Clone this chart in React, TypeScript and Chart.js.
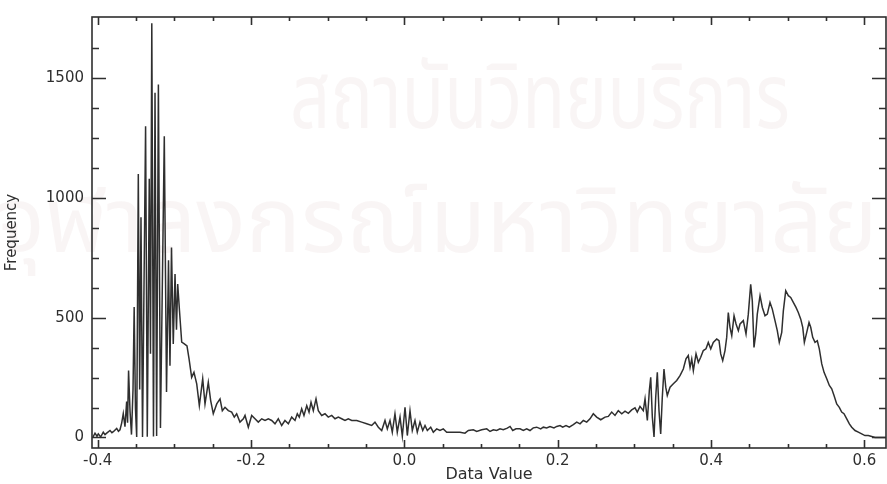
import React, { useEffect, useRef } from "react";
import { Chart, registerables } from "chart.js";

Chart.register(...registerables);

// Histogram: bin position (Data Value) and count (Frequency)
const dataValue = [
  -0.4062, -0.4036, -0.4010, -0.3993, -0.3962, -0.3928, -0.3905, -0.3883, -0.3840, -0.3815,
  -0.3797, -0.3753, -0.3730, -0.3710, -0.3688, -0.3667, -0.3645, -0.3623, -0.3611, -0.3598,
  -0.3579, -0.3560, -0.3540, -0.3525, -0.3508, -0.3492, -0.3471, -0.3453, -0.3436, -0.3416,
  -0.3376, -0.3354, -0.3328, -0.3312, -0.3295, -0.3273, -0.3253, -0.3232, -0.3209, -0.3182,
  -0.3132, -0.3103, -0.3077, -0.3058, -0.3038, -0.3015, -0.2992, -0.2973, -0.2957, -0.2934,
  -0.2905, -0.2875, -0.2836, -0.2810, -0.2775, -0.2745, -0.2709, -0.2675, -0.2631, -0.2601,
  -0.2558, -0.2527, -0.2493, -0.2448, -0.2405, -0.2375, -0.2340, -0.2297, -0.2253, -0.2219,
  -0.2188, -0.2145, -0.2101, -0.2079, -0.2036, -0.1992, -0.1949, -0.1906, -0.1861, -0.1818,
  -0.1775, -0.1731, -0.1688, -0.1645, -0.1601, -0.1558, -0.1514, -0.1470, -0.1427, -0.1397,
  -0.1371, -0.1340, -0.1310, -0.1274, -0.1244, -0.1218, -0.1188, -0.1153, -0.1123, -0.1079,
  -0.1036, -0.0993, -0.0948, -0.0905, -0.0862, -0.0818, -0.0775, -0.0732, -0.0687, -0.0622,
  -0.0557, -0.0492, -0.0427, -0.0384, -0.0340, -0.0296, -0.0253, -0.0223, -0.0188, -0.0158,
  -0.0123, -0.0093, -0.0057, -0.0027, 0.0008, 0.0038, 0.0073, 0.0103, 0.0138, 0.0168,
  0.0203, 0.0239, 0.0269, 0.0299, 0.0343, 0.0377, 0.0421, 0.0464, 0.0507, 0.0552,
  0.0638, 0.0725, 0.0790, 0.0834, 0.0899, 0.0943, 0.1008, 0.1074, 0.1117, 0.1160,
  0.1204, 0.1247, 0.1290, 0.1342, 0.1378, 0.1413, 0.1456, 0.1508, 0.1551, 0.1595,
  0.1638, 0.1681, 0.1726, 0.1778, 0.1812, 0.1856, 0.1899, 0.1951, 0.1987, 0.2030,
  0.2065, 0.2108, 0.2151, 0.2203, 0.2248, 0.2291, 0.2334, 0.2378, 0.2421, 0.2464,
  0.2508, 0.2561, 0.2617, 0.2660, 0.2704, 0.2747, 0.2790, 0.2835, 0.2878, 0.2921,
  0.2965, 0.3008, 0.3038, 0.3073, 0.3116, 0.3139, 0.3169, 0.3195, 0.3213, 0.3234,
  0.3256, 0.3278, 0.3299, 0.3321, 0.3343, 0.3364, 0.3386, 0.3409, 0.3429, 0.3465,
  0.3508, 0.3552, 0.3595, 0.3638, 0.3673, 0.3703, 0.3726, 0.3748, 0.3769, 0.3804,
  0.3834, 0.3865, 0.3899, 0.3934, 0.3964, 0.3996, 0.4029, 0.4074, 0.4104, 0.4126,
  0.4152, 0.4182, 0.4204, 0.4225, 0.4247, 0.4270, 0.4300, 0.4326, 0.4356, 0.4378,
  0.4421, 0.4456, 0.4486, 0.4517, 0.4538, 0.4560, 0.4583, 0.4603, 0.4639, 0.4669,
  0.4704, 0.4734, 0.4769, 0.4799, 0.4834, 0.4864, 0.4890, 0.4922, 0.4943, 0.4974,
  0.5008, 0.5039, 0.5073, 0.5108, 0.5138, 0.5170, 0.5196, 0.5217, 0.5248, 0.5278,
  0.5300, 0.5326, 0.5356, 0.5386, 0.5412, 0.5444, 0.5474, 0.5509, 0.5543, 0.5574,
  0.5604, 0.5639, 0.5673, 0.5704, 0.5734, 0.5770, 0.5804, 0.5835, 0.5878, 0.5921,
  0.5965, 0.6008, 0.6051, 0.6096, 0.6139, 0.6204, 0.6282,
];

const frequency = [
  2, 18, 5, 15, 2, 22, 12, 18, 29, 20,
  24, 38, 26, 32, 60, 100, 45, 150, 62, 280,
  110, 12, 200, 545, 120, 2, 1100, 200, 920, 2,
  1300, 3, 1080, 350, 1730, 4, 1440, 6, 1474, 40,
  1258, 190, 740, 300, 793, 390, 683, 450, 641, 530,
  398, 392, 382, 330, 251, 272, 224, 133, 245, 140,
  230, 154, 99, 140, 161, 112, 126, 112, 106, 85,
  99, 64, 78, 92, 43, 92, 78, 64, 78, 71,
  78, 71, 57, 78, 50, 71, 57, 85, 71, 99,
  85, 120, 92, 133, 106, 147, 112, 161, 112, 92,
  99, 85, 92, 78, 85, 78, 71, 78, 71, 71,
  64, 57, 50, 64, 43, 29, 71, 36, 71, 22,
  99, 22, 85, 5, 126, 8, 112, 29, 71, 22,
  64, 29, 50, 29, 43, 22, 36, 29, 36, 22,
  22, 22, 18, 29, 32, 25, 32, 36, 25, 32,
  29, 36, 32, 39, 46, 29, 36, 36, 29, 36,
  29, 40, 43, 36, 43, 40, 46, 40, 46, 50,
  43, 50, 43, 54, 64, 57, 71, 64, 78, 99,
  85, 74, 85, 88, 106, 92, 112, 99, 110, 101,
  115, 124, 106, 130, 112, 161, 71, 196, 251, 85,
  2, 168, 272, 112, 15, 168, 286, 210, 175, 210,
  224, 238, 258, 286, 328, 342, 293, 328, 279, 349,
  314, 335, 363, 370, 397, 370, 397, 411, 404, 349,
  321, 363, 418, 522, 460, 425, 508, 474, 446, 474,
  488, 432, 515, 640, 571, 376, 432, 515, 592, 543,
  508, 515, 564, 536, 488, 446, 397, 439, 529, 613,
  592, 585, 564, 543, 522, 494, 460, 397, 439, 480,
  460, 418, 397, 404, 370, 307, 272, 245, 217, 203,
  175, 140, 126, 106, 99, 78, 57, 43, 29, 22,
  15, 8, 8, 4, 0, 0, 0,
];

const xMajorTicks = [-0.4, -0.2, 0.0, 0.2, 0.4, 0.6];
const xMinorTicks = [-0.35, -0.3, -0.25, -0.15, -0.1, -0.05, 0.05, 0.1, 0.15, 0.25, 0.3, 0.35, 0.45, 0.5, 0.55];
const yMajorTicks = [0, 500, 1000, 1500];
const yMinorTicks = [125, 250, 375, 625, 750, 875, 1125, 1250, 1375, 1625];
const xTitle = "Data Value";
const yTitle = "Frequency";
const watermarkLines = ["สถาบันวิทยบริการ", "จุฬาลงกรณ์มหาวิทยาลัย"];

export default function App() {
  const canvasRef = useRef<HTMLCanvasElement>(null);

  useEffect(() => {
    document.body.style.margin = "0";
    const canvas = canvasRef.current;
    if (!canvas) return;
    const ink = "#2f2f2f";
    const fontFamily = "'DejaVu Sans', 'Liberation Sans', sans-serif";

    const framePlugin = {
      id: "frameTicks",
      beforeDraw(chart: any) {
        const ctx = chart.ctx;
        ctx.save();
        ctx.fillStyle = "#ffffff";
        ctx.fillRect(0, 0, chart.width, chart.height);
        ctx.fillStyle = "rgba(200,160,160,0.10)";
        ctx.textBaseline = "alphabetic";
        ctx.textAlign = "left";
        ctx.font = "92px 'Noto Sans Thai', 'Loma', 'Garuda', 'Noto Sans', sans-serif";
        ctx.fillText(watermarkLines[0], 290, 128, 500);
        ctx.fillText(watermarkLines[1], -4, 252, 905);
        ctx.restore();
      },
      afterDraw(chart: any) {
        const { ctx, chartArea: a, scales } = chart;
        const xs = scales.x;
        const ys = scales.y;
        ctx.save();
        ctx.strokeStyle = ink;
        ctx.lineWidth = 1.6;
        ctx.strokeRect(a.left, a.top, a.right - a.left, a.bottom - a.top);
        ctx.beginPath();
        const xt = (vals: number[], len: number) => {
          vals.forEach((v) => {
            const p = Math.round(xs.getPixelForValue(v)) + 0.5;
            ctx.moveTo(p, a.bottom);
            ctx.lineTo(p, a.bottom - len);
            ctx.moveTo(p, a.top);
            ctx.lineTo(p, a.top + len);
          });
        };
        const yt = (vals: number[], len: number) => {
          vals.forEach((v) => {
            const p = Math.round(ys.getPixelForValue(v)) + 0.5;
            ctx.moveTo(a.left, p);
            ctx.lineTo(a.left + len, p);
            ctx.moveTo(a.right, p);
            ctx.lineTo(a.right - len, p);
          });
        };
        xt(xMajorTicks, 8);
        xt(xMinorTicks, 4);
        yt(yMajorTicks, 14);
        yt(yMinorTicks, 7);
        ctx.stroke();
        ctx.restore();
      },
    };

    const chart = new Chart(canvas, {
      type: "scatter",
      data: {
        datasets: [
          {
            data: dataValue.map((x, i) => ({ x, y: frequency[i] })),
            showLine: true,
            borderColor: ink,
            borderWidth: 1.5,
            pointRadius: 0,
            fill: false,
            tension: 0,
          },
        ],
      },
      options: {
        animation: false,
        responsive: false,
        layout: { padding: { left: 0, right: 1, top: 13, bottom: 0 } },
        plugins: { legend: { display: false }, tooltip: { enabled: false } },
        scales: {
          x: {
            type: "linear",
            min: -0.4075,
            max: 0.6282,
            grid: { display: false, drawTicks: false },
            border: { display: false },
            afterBuildTicks: (s: any) => {
              s.ticks = xMajorTicks.map((v) => ({ value: v }));
            },
            afterFit: (s: any) => {
              s.height = 36;
            },
            ticks: {
              padding: 4,
              color: ink,
              autoSkip: false,
              maxRotation: 0,
              font: { family: fontFamily, size: 15 },
              callback: (v: any) => Number(v).toFixed(1),
            },
            title: {
              display: true,
              text: xTitle,
              color: ink,
              font: { family: fontFamily, size: 16 },
              padding: { top: 0, bottom: 0 },
            },
          },
          y: {
            type: "linear",
            min: -44,
            max: 1756,
            grid: { display: false, drawTicks: false },
            border: { display: false },
            afterBuildTicks: (s: any) => {
              s.ticks = yMajorTicks.map((v) => ({ value: v }));
            },
            afterFit: (s: any) => {
              s.width = 92;
            },
            ticks: {
              padding: 8,
              color: ink,
              autoSkip: false,
              font: { family: fontFamily, size: 15 },
              callback: (v: any) => String(v),
            },
            title: {
              display: true,
              text: yTitle,
              color: ink,
              font: { family: fontFamily, size: 15 },
              padding: { top: 3, bottom: 0 },
            },
          },
        },
      },
      plugins: [framePlugin],
    } as any);

    return () => chart.destroy();
  }, []);

  return (
    <div style={{ position: "relative", width: 887, height: 484 }}>
      <canvas ref={canvasRef} width={887} height={484} style={{ display: "block" }} />
    </div>
  );
}
